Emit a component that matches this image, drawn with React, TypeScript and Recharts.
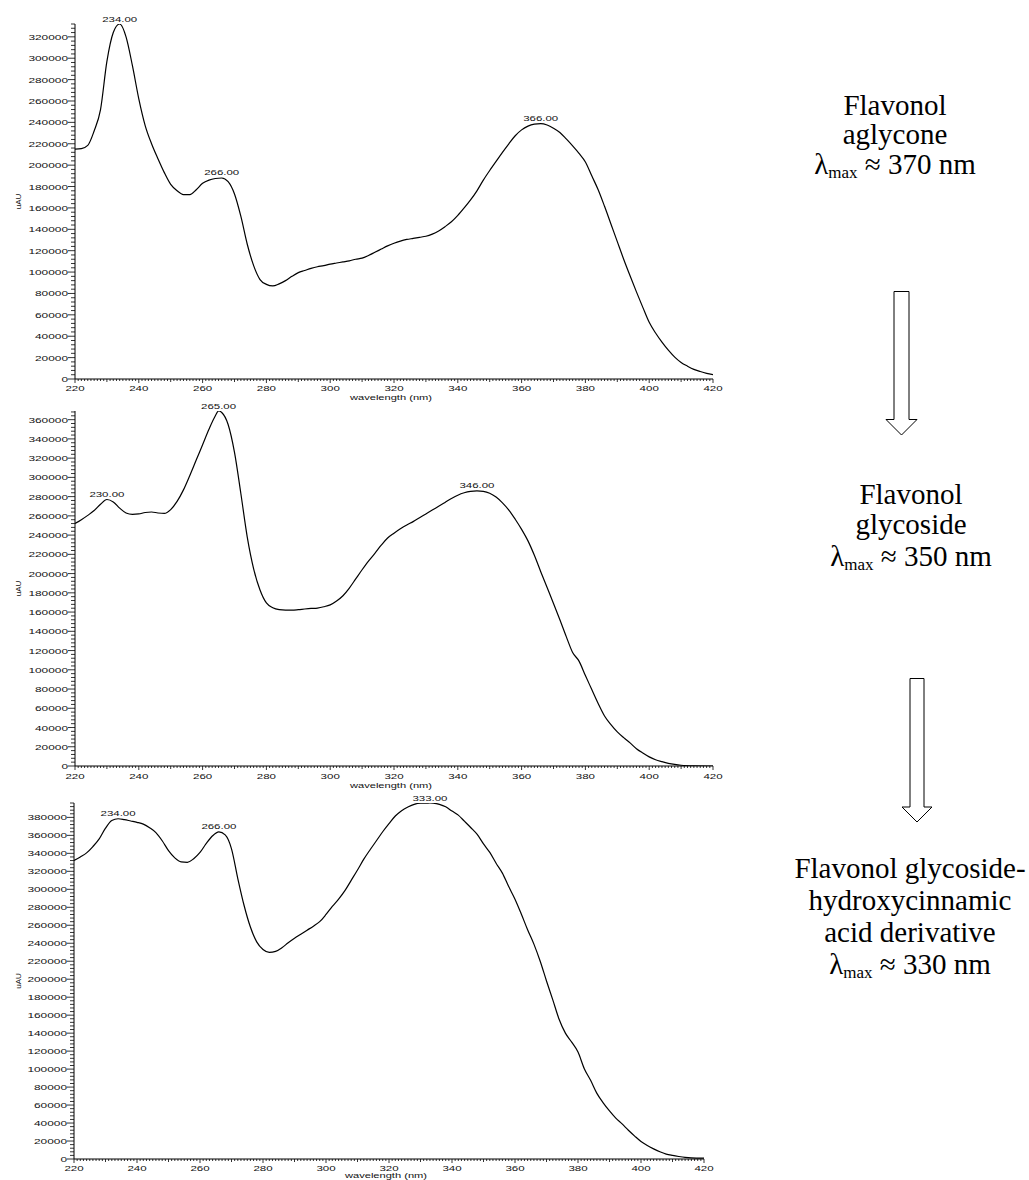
import React from "react";
import { LineChart, Line, XAxis, YAxis, LabelList } from "recharts";

// wavelength (nm) / absorbance (uAU)
const WL_AGLYCONE = [
  220, 222, 224, 226, 228, 230, 232, 234, 236, 238, 240, 242, 244, 246, 248, 250, 252, 254, 256, 258,
  260, 262, 264, 266, 268, 270, 272, 274, 276, 278, 280, 282, 284, 286, 288, 290, 292, 294, 296, 298,
  300, 302, 304, 306, 308, 310, 312, 314, 316, 318, 320, 322, 324, 326, 328, 330, 332, 334, 336, 338,
  340, 342, 344, 346, 348, 350, 352, 354, 356, 358, 360, 362, 364, 366, 368, 370, 372, 374, 376, 378,
  380, 382, 384, 386, 388, 390, 392, 394, 396, 398, 400, 402, 404, 406, 408, 410, 412, 414, 416, 418, 420,
];
const UAU_AGLYCONE = [
  215000, 215500, 218500, 232000, 252000, 297000, 324000, 332000, 320000, 293000, 262000, 237000, 220000, 206000, 193000, 182000, 176000, 172500, 172500, 177000,
  183000, 186000, 187500, 188000, 184500, 173000, 152000, 126000, 106000, 93000, 88500, 87000, 89000, 92000, 96000, 99500, 101500, 103500, 105000, 106000,
  107500, 108500, 109500, 110500, 112000, 113000, 115500, 118500, 121500, 124500, 127000, 129000, 130500, 131500, 132500, 133500, 135500, 138500, 142500, 147000,
  153000, 160000, 167500, 176000, 186000, 195000, 203500, 212000, 220000, 227500, 233000, 236500, 238300, 238800, 237500, 234500, 230500, 224500, 218000, 211000,
  203000, 190000, 177000, 161500, 145000, 128500, 112000, 96500, 81500, 67000, 53000, 43000, 34500, 27000, 20500, 15500, 12000, 9000, 7000, 5300, 4000,
];
const PEAKS_AGLYCONE = [234, 266, 366];

const WL_GLYCOSIDE = [
  220, 222, 224, 226, 228, 230, 232, 234, 236, 238, 240, 242, 244, 246, 248, 250, 252, 254, 256, 258,
  260, 262, 264, 265, 266, 268, 270, 272, 274, 276, 278, 280, 282, 284, 286, 288, 290, 292, 294, 296, 298,
  300, 302, 304, 306, 308, 310, 312, 314, 316, 318, 320, 322, 324, 326, 328, 330, 332, 334, 336, 338,
  340, 342, 344, 346, 348, 350, 352, 354, 356, 358, 360, 362, 364, 366, 368, 370, 372, 374, 376, 378,
  380, 382, 384, 386, 388, 390, 392, 394, 396, 398, 400, 402, 404, 406, 408, 410, 414, 420,
];
const UAU_GLYCOSIDE = [
  252000, 256000, 260500, 265500, 272000, 277000, 274500, 268000, 263000, 261500, 262000, 263500, 264000, 263000, 262500, 266500, 275000, 287000, 302000, 318000,
  334000, 350000, 364000, 369000, 367500, 355000, 326000, 283000, 238000, 205000, 183000, 169500, 164500, 162500, 162000, 162000, 162500, 163200, 163800, 164200, 165500,
  167500, 171500, 177000, 185000, 194500, 204000, 213000, 221000, 229500, 237000, 242000, 246500, 250500, 254000, 258000, 262000, 266000, 270000, 274000, 278000,
  281500, 284000, 285500, 286000, 285500, 283500, 279500, 273500, 266000, 256500, 246000, 234000, 219000, 202000, 185500, 169000, 152000, 134500, 118000, 109000,
  94000, 79500, 65000, 52000, 43000, 35500, 29500, 24000, 18000, 13500, 9500, 6500, 4500, 2800, 1600, 800, 200, 0,
];
const PEAKS_GLYCOSIDE = [230, 265, 346];

const WL_CINNAMOYL = [
  220, 222, 224, 226, 228, 230, 232, 234, 236, 238, 240, 242, 244, 246, 248, 250, 252, 254, 256, 258,
  260, 262, 264, 266, 268, 270, 272, 274, 276, 278, 280, 282, 284, 286, 288, 290, 292, 294, 296, 298,
  300, 302, 304, 306, 308, 310, 312, 314, 316, 318, 320, 322, 324, 326, 328, 330, 332, 333, 334, 336, 338,
  340, 342, 344, 346, 348, 350, 352, 354, 356, 358, 360, 362, 364, 366, 368, 370, 372, 374, 376, 378,
  380, 382, 384, 386, 388, 390, 392, 394, 396, 398, 400, 402, 404, 406, 408, 410, 412, 414, 416, 418, 420,
];
const UAU_CINNAMOYL = [
  332000, 336000, 340500, 347500, 356000, 368000, 376500, 378500, 377500, 376000, 374500, 372500, 368500, 363000, 354000, 343000, 335000, 330500, 330000, 334000,
  341000, 351000, 359500, 363800, 360500, 345000, 312000, 282000, 258000, 241500, 233000, 229800, 231000, 235000, 240500, 245500, 250000, 254500, 259000, 264000,
  272000, 281000, 289000, 298500, 310000, 321500, 333500, 344000, 354000, 364000, 373000, 381500, 387500, 391500, 394500, 395800, 395900, 396000, 395800, 394500, 391800,
  387000, 382500, 375500, 368500, 361000, 350500, 341000, 329000, 318000, 303000, 289000, 272500, 255000, 239000, 220000, 198000, 177000, 155500, 140000, 130000,
  119000, 100500, 87500, 73000, 62500, 53500, 45500, 39000, 32000, 25500, 19500, 15000, 11300, 8000, 5500, 4000, 2800, 1800, 1200, 1000, 900,
];
const PEAKS_CINNAMOYL = [234, 266, 333];

const X_LABELS = [220, 240, 260, 280, 300, 320, 340, 360, 380, 400, 420];
const X_MINOR_STEP = 1;
const Y_LABEL_STEP = 20000;
const Y_MINOR_STEP = 4000;

const FONT = "'Liberation Sans', Arial, sans-serif";
const SERIF = "'Liberation Serif', 'Times New Roman', serif";

function XTick(props: any) {
  const { x, y, payload, gap } = props;
  const v = payload.value;
  const major = X_LABELS.includes(v);
  const len = major ? 4 : v % 10 === 0 ? 3 : 2;
  return (
    <g>
      <line x1={x} x2={x} y1={y} y2={y + len} stroke="#000" strokeWidth={0.8} />
      {major && (
        <text x={x} y={y + gap} textAnchor="middle" fontFamily={FONT} fontSize={8} fill="#111"
          textLength={String(v).length * 6.4} lengthAdjust="spacingAndGlyphs">
          {v}
        </text>
      )}
    </g>
  );
}

function YTick(props: any) {
  const { x, y, payload } = props;
  const v = payload.value;
  const major = v % Y_LABEL_STEP === 0;
  const s = String(v);
  return (
    <g>
      <line x1={x - (major ? 7 : 4)} x2={x} y1={y} y2={y} stroke="#000" strokeWidth={0.8} />
      {major && (
        <text x={x - 7} y={y + 3} textAnchor="end" fontFamily={FONT} fontSize={8} fill="#111"
          textLength={s.length * 6.6} lengthAdjust="spacingAndGlyphs">
          {s}
        </text>
      )}
    </g>
  );
}

function Spectrum(props: any) {
  const { wl, values, peaks, yMax, top, marginTop, plotHeight, axisX, plotRight, gap, labelGap } = props;
  const data = wl.map((w: number, i: number) => ({
    wl: w,
    v: values[i],
    peak: peaks.includes(w) ? w.toFixed(2) : null,
  }));
  const xTicks: number[] = [];
  for (let t = 220; t <= 420; t += X_MINOR_STEP) xTicks.push(t);
  const yTicks: number[] = [];
  for (let t = 0; t <= yMax; t += Y_MINOR_STEP) yTicks.push(t);
  const xh = 24;
  const width = plotRight + 20;
  const height = marginTop + plotHeight + xh;

  return (
    <div style={{ position: "absolute", left: 0, top }}>
      <LineChart width={width} height={height} data={data}
        margin={{ top: marginTop, right: 20, bottom: 0, left: 0 }}>
        <XAxis dataKey="wl" type="number" domain={[220, 420]} ticks={xTicks} interval={0}
          allowDataOverflow tickSize={0} tickMargin={0} tickLine={false} height={xh}
          axisLine={{ stroke: "#000", strokeWidth: 1 }}
          tick={(p: any) => <XTick {...p} gap={gap} />}
          label={{
            content: (lp: any) => {
              const vb = lp.viewBox;
              return (
                <text x={vb.x + vb.width / 2 - 3} y={vb.y + labelGap} textAnchor="middle"
                  fontFamily={FONT} fontSize={8} fill="#111" textLength={82} lengthAdjust="spacingAndGlyphs">
                  wavelength (nm)
                </text>
              );
            },
          }} />
        <YAxis type="number" domain={[0, yMax]} ticks={yTicks} interval={0} allowDataOverflow
          width={axisX} tickSize={0} tickMargin={0} tickLine={false}
          axisLine={{ stroke: "#000", strokeWidth: 1 }}
          tick={(p: any) => <YTick {...p} />}
          label={{
            content: (lp: any) => {
              const vb = lp.viewBox;
              const cy = vb.y + vb.height / 2;
              return (
                <text x={18} y={cy} transform={`rotate(-90 18 ${cy})`} textAnchor="middle"
                  dominantBaseline="central" fontFamily={FONT} fontSize={8} fill="#111">
                  uAU
                </text>
              );
            },
          }} />
        <Line type="monotone" dataKey="v" stroke="#000" strokeWidth={1.2} dot={false}
          isAnimationActive={false}>
          <LabelList dataKey="peak" content={(lp: any) => {
            if (!lp.value) return null;
            return (
              <text x={lp.x} y={lp.y - 2.5} textAnchor="middle" fontFamily={FONT} fontSize={8}
                fill="#111" textLength={35} lengthAdjust="spacingAndGlyphs">
                {lp.value}
              </text>
            );
          }} />
        </Line>
      </LineChart>
    </div>
  );
}

function Caption({ lines, cx, baselines, lambda }: any) {
  const all = [...lines, null];
  return (
    <>
      {all.map((t: string | null, i: number) => (
        <div key={i} style={{
          position: "absolute", left: cx - 200, width: 400, top: baselines[i] - 24.3,
          textAlign: "center", fontFamily: SERIF, fontSize: 29, lineHeight: "29px",
          whiteSpace: "nowrap", color: "#000",
        }}>
          {t !== null ? t : (
            <span>λ<span style={{ fontSize: 17, position: "relative", top: 4 }}>max</span> ≈ {lambda} nm</span>
          )}
        </div>
      ))}
    </>
  );
}

function Arrow({ x1, x2, hx1, hx2, top, neck, tip }: any) {
  const cx = (hx1 + hx2) / 2;
  const pts = `${x1},${top} ${x2},${top} ${x2},${neck} ${hx2},${neck} ${cx},${tip} ${hx1},${neck} ${x1},${neck}`;
  return <polygon points={pts} fill="#fff" stroke="#000" strokeWidth={1} />;
}

export default function App() {
  return (
    <div style={{ position: "absolute", left: 0, top: 0, width: 1029, height: 1180, overflow: "hidden", background: "#fff" }}>
      <Spectrum wl={WL_AGLYCONE} values={UAU_AGLYCONE} peaks={PEAKS_AGLYCONE} yMax={332000}
        top={0} marginTop={24} plotHeight={355} axisX={75} plotRight={713} gap={12} labelGap={21} />
      <Spectrum wl={WL_GLYCOSIDE} values={UAU_GLYCOSIDE} peaks={PEAKS_GLYCOSIDE} yMax={369000}
        top={400} marginTop={11} plotHeight={355} axisX={75} plotRight={713} gap={13} labelGap={22} />
      <Spectrum wl={WL_CINNAMOYL} values={UAU_CINNAMOYL} peaks={PEAKS_CINNAMOYL} yMax={396000}
        top={790} marginTop={13} plotHeight={356} axisX={74} plotRight={704} gap={12} labelGap={19} />

      <svg width={1029} height={1180} style={{ position: "absolute", left: 0, top: 0, pointerEvents: "none" }}>
        <Arrow x1={894} x2={909} hx1={886} hx2={917} top={291.5} neck={419.5} tip={435} />
        <Arrow x1={910} x2={924} hx1={902} hx2={932} top={678.5} neck={807} tip={822} />
      </svg>

      <Caption lines={["Flavonol", "aglycone"]} cx={895} baselines={[115, 144, 174]} lambda={370} />
      <Caption lines={["Flavonol", "glycoside"]} cx={911} baselines={[504, 534, 566]} lambda={350} />
      <Caption lines={["Flavonol glycoside-", "hydroxycinnamic", "acid derivative"]} cx={910}
        baselines={[878, 910, 942, 974]} lambda={330} />
    </div>
  );
}
